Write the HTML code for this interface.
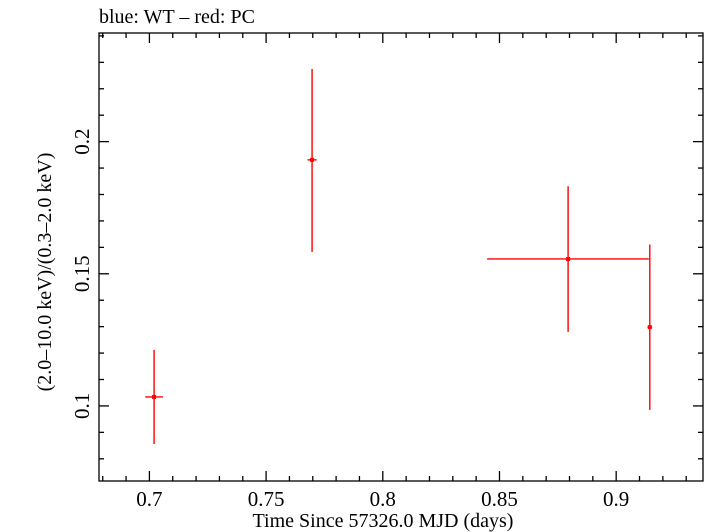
<!DOCTYPE html>
<html><head><meta charset="utf-8"><style>
html,body{margin:0;padding:0;background:#fff;}
svg{display:block;}
svg text{font-family:"Liberation Serif",serif;}
</style></head><body>
<svg id="chart" width="705" height="532" viewBox="0 0 705 532" xmlns="http://www.w3.org/2000/svg">
<text x="99" y="23" font-size="20">blue: WT – red: PC</text>
<rect x="99" y="33" width="604" height="448" fill="none" stroke="#000" stroke-width="1.3"/>
<g id="ticks"></g>
<g id="marks"></g>
<text x="383" y="527" font-size="20" text-anchor="middle">Time Since 57326.0 MJD (days)</text>
<text transform="translate(51,272) rotate(-90)" font-size="20" text-anchor="middle">(2.0–10.0 keV)/(0.3–2.0 keV)</text>
</svg>
<script>
const xs = [0.702, 0.7697, 0.8794, 0.9144];
const xErrLo = [0.0038, 0.002, 0.0347, 0.001];
const xErrHi = [0.0038, 0.002, 0.0346, 0.001];
const ys = [0.1034, 0.1931, 0.1556, 0.1298];
const yErrLo = [0.0178, 0.0348, 0.0276, 0.0313];
const yErrHi = [0.0178, 0.0344, 0.0275, 0.0313];
const xTickVals = [0.7, 0.75, 0.8, 0.85, 0.9];
const xTickLabels = ["0.7", "0.75", "0.8", "0.85", "0.9"];
const yTickVals = [0.1, 0.15, 0.2];
const yTickLabels = ["0.1", "0.15", "0.2"];

const L=99,R=703,T=33,B=481;
const xMin=0.6784,xMax=0.9372,yMin=0.0716,yMax=0.2411;
const X=v=>L+(v-xMin)/(xMax-xMin)*(R-L);
const Y=v=>B-(v-yMin)/(yMax-yMin)*(B-T);
const NS="http://www.w3.org/2000/svg";
function mk(tag,attrs,parent){const e=document.createElementNS(NS,tag);for(const k in attrs)e.setAttribute(k,attrs[k]);parent.appendChild(e);return e;}
const tg=document.getElementById('ticks');
function line(x1,y1,x2,y2,p){return mk('line',{x1:x1,y1:y1,x2:x2,y2:y2,stroke:'#000','stroke-width':1.3},p);}
for(let i=Math.ceil(xMin*100);i<=Math.floor(xMax*100);i++){
  const v=i/100,x=X(v),major=(i%5===0),len=major?10:5;
  const a=line(x,B,x,B-len,tg);
  
  
  const b=line(x,T,x,T+len,tg);
  
  
}
for(let i=Math.ceil(yMin*100);i<=Math.floor(yMax*100);i++){
  const v=i/100,y=Y(v),major=(i%5===0),len=major?10:5;
  const a=line(L,y,L+len,y,tg);
  
  
  const b=line(R,y,R-len,y,tg);
  
  
}
xTickVals.forEach((v,i)=>{
  const t=mk('text',{x:X(v),y:506,'font-size':21,'text-anchor':'middle','font-family':'Liberation Serif, serif'},tg);
  
  
  t.textContent=xTickLabels[i];
});
yTickVals.forEach((v,i)=>{
  const t=mk('text',{transform:`translate(89,${Y(v)}) rotate(-90)`,'font-size':21,'text-anchor':'middle','font-family':'Liberation Serif, serif'},tg);
  
  
  t.textContent=yTickLabels[i];
});
const mg=document.getElementById('marks');
xs.forEach((xv,i)=>{
  const g=mk('g',{stroke:'#f00','stroke-width':1.4},mg);
  
  
  mk('line',{x1:X(xv-xErrLo[i]),y1:Y(ys[i]),x2:X(xv+xErrHi[i]),y2:Y(ys[i])},g);
  mk('line',{x1:X(xv),y1:Y(ys[i]-yErrLo[i]),x2:X(xv),y2:Y(ys[i]+yErrHi[i])},g);
  mk('rect',{x:X(xv)-2,y:Y(ys[i])-2,width:4,height:4,fill:'#f00',stroke:'none'},g);
});
</script>
</body></html>
